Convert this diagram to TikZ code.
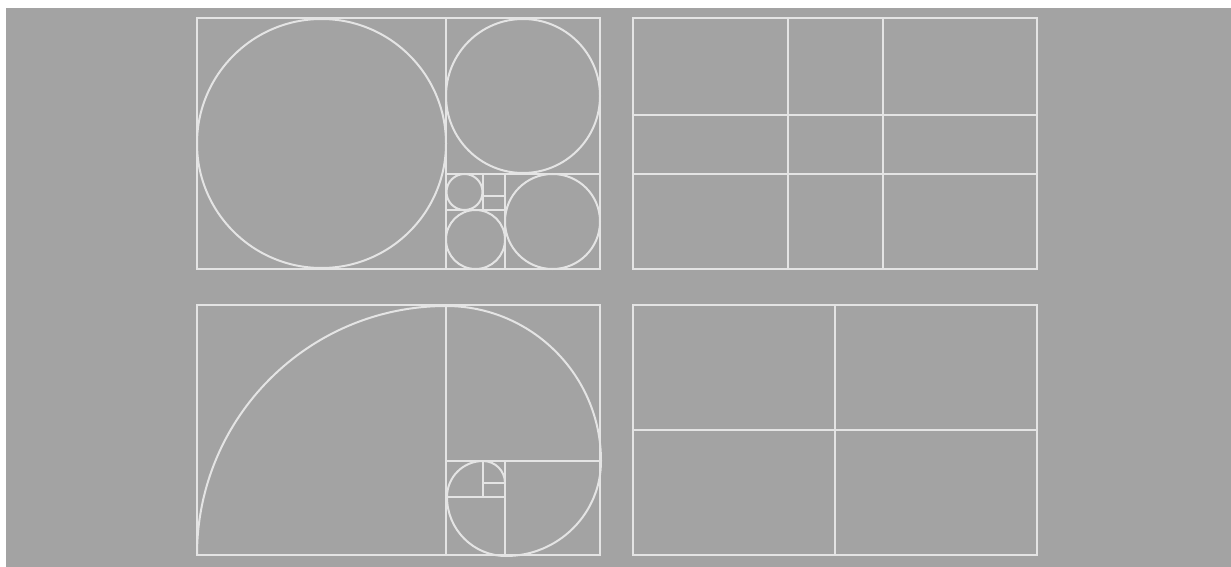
\documentclass[tikz,border=0pt]{standalone}
\usepackage{tikz}

\definecolor{panelgray}{HTML}{A3A3A3}
\definecolor{guideline}{HTML}{E4E4E4}

\begin{document}
\begin{tikzpicture}[x=0.5pt,y=-0.5pt,guide/.style={draw=guideline,line width=1pt}]
  \useasboundingbox (0,0) rectangle (1231,567);
  \fill[white] (0,0) rectangle (1231,567);
  \fill[panelgray] (6,8) rectangle (1231,567);
  \draw[guide] (197,18) rectangle (600,269);
  \draw[guide] (446,18) -- (446,269);
  \draw[guide] (446,174) -- (600,174);
  \draw[guide] (505,174) -- (505,269);
  \draw[guide] (446,210) -- (505,210);
  \draw[guide] (483,174) -- (483,210);
  \draw[guide] (483,196) -- (505,196);
  \draw[guide] (321.5,143.5) circle[radius=124.5];
  \draw[guide] (523,96) circle[radius=77];
  \draw[guide] (552.5,221.5) circle[radius=47.5];
  \draw[guide] (475.5,239.5) circle[radius=29.5];
  \draw[guide] (464.5,192) circle[radius=18];
  \draw[guide] (633,18) rectangle (1037,269);
  \draw[guide] (788,18) -- (788,269);
  \draw[guide] (883,18) -- (883,269);
  \draw[guide] (633,115) -- (1037,115);
  \draw[guide] (633,174) -- (1037,174);
  \draw[guide] (197,305) rectangle (600,555);
  \draw[guide] (446,305) -- (446,555);
  \draw[guide] (446,461) -- (600,461);
  \draw[guide] (505,461) -- (505,555);
  \draw[guide] (446,497) -- (505,497);
  \draw[guide] (483,461) -- (483,497);
  \draw[guide] (483,483) -- (505,483);
  \draw[guide] (197,555) arc[start angle=180,end angle=270,radius=249]
    arc[start angle=270,end angle=360,radius=155]
    arc[start angle=0,end angle=90,radius=95]
    arc[start angle=90,end angle=180,radius=59]
    arc[start angle=180,end angle=270,radius=36]
    arc[start angle=270,end angle=360,radius=22];
  \draw[guide] (633,305) rectangle (1037,555);
  \draw[guide] (835,305) -- (835,555);
  \draw[guide] (633,430) -- (1037,430);
\end{tikzpicture}
\end{document}
